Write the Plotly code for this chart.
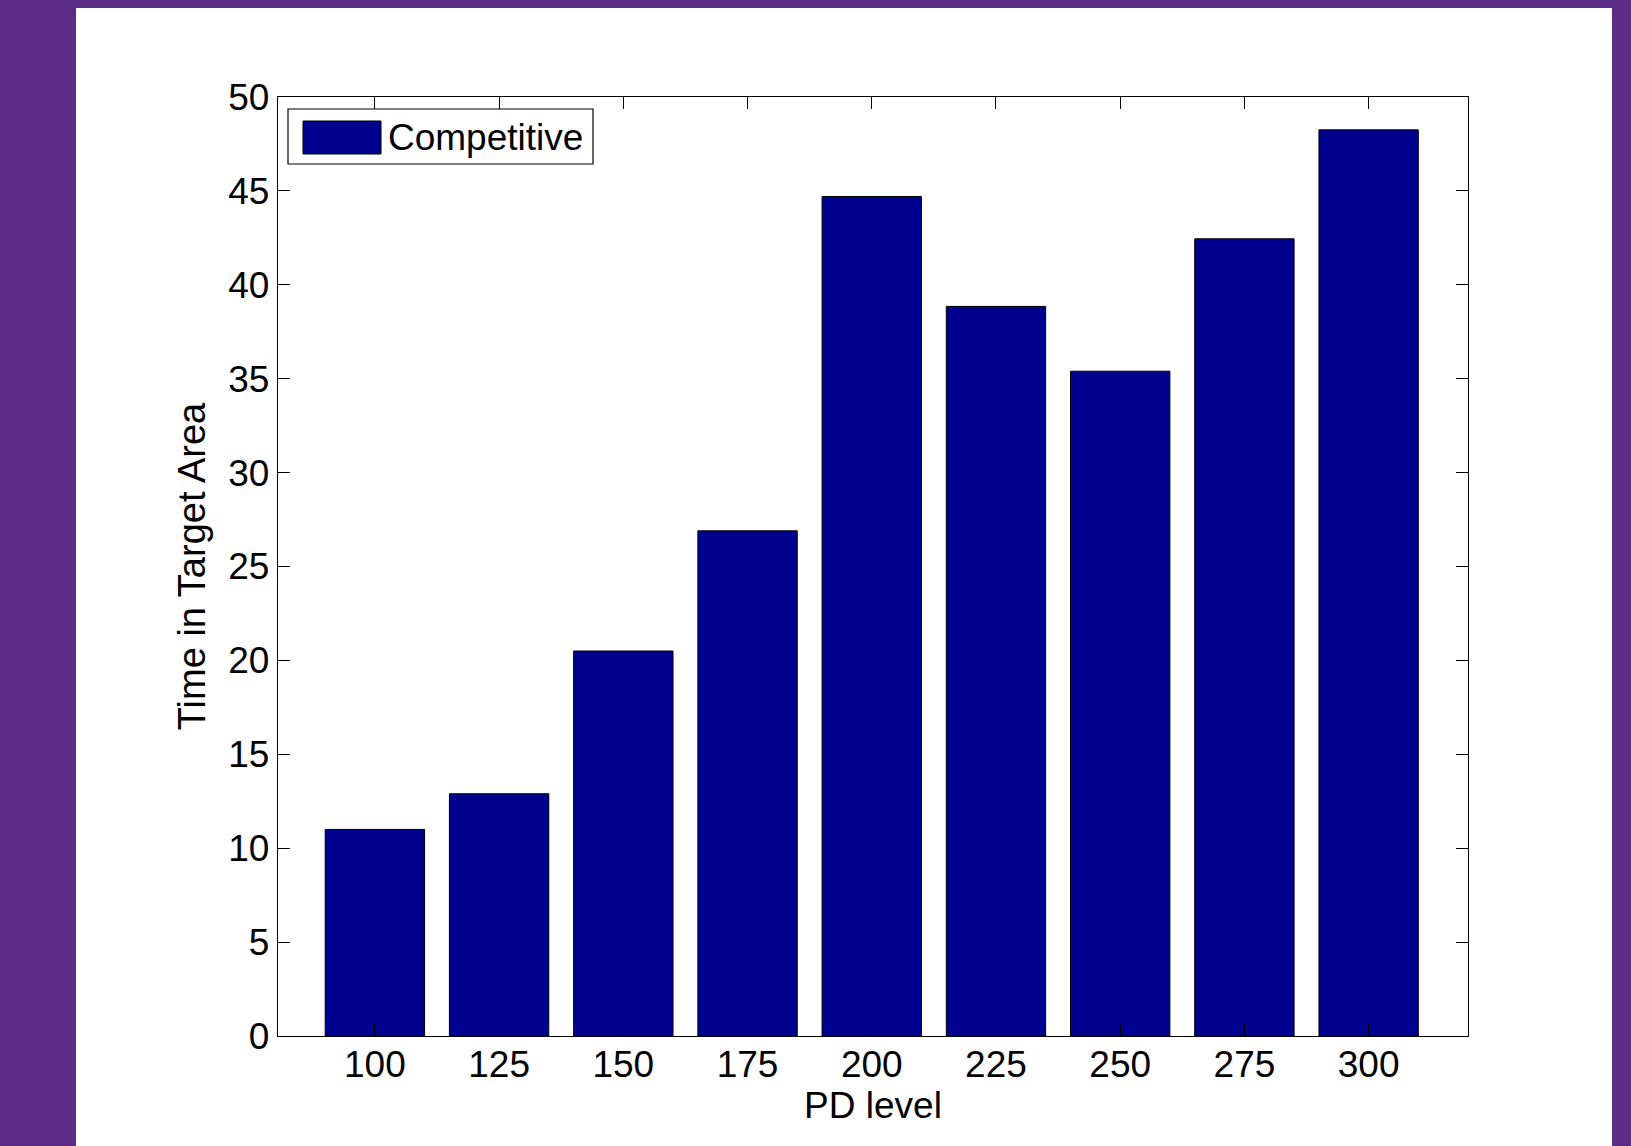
import plotly.graph_objects as go

pd_levels = [100, 125, 150, 175, 200, 225, 250, 275, 300]
time_in_target = [11.0, 12.9, 20.5, 26.9, 44.7, 38.85, 35.4, 42.45, 48.25]
y_ticks = [0, 5, 10, 15, 20, 25, 30, 35, 40, 45, 50]
series_name = "Competitive"

FONT = "Liberation Sans, Arial, sans-serif"
PURPLE = "#5b2d87"
BAR = "#000090"
FS = 37

W, H = 1631, 1146
L, R, T, B = 278, 163, 97, 110
pw, ph = W - L - R, H - T - B

def px(x):
    return (x - L) / pw

def py(y):
    return (H - B - y) / ph

fig = go.Figure()
fig.add_trace(go.Bar(
    x=pd_levels, y=time_in_target, name=series_name,
    marker=dict(color=BAR, line=dict(color="black", width=1)),
    showlegend=False,
))

shapes = [
    dict(type="rect", xref="paper", yref="paper", x0=px(76), x1=px(1612), y0=py(1146), y1=py(8),
         fillcolor="white", line=dict(width=0), layer="below"),
    dict(type="rect", xref="paper", yref="paper", x0=px(288), x1=px(593), y0=py(164), y1=py(109),
         fillcolor="white", line=dict(color="black", width=1.2), layer="above"),
    dict(type="rect", xref="paper", yref="paper", x0=px(303), x1=px(381), y0=py(154), y1=py(121),
         fillcolor=BAR, line=dict(color="black", width=1), layer="above"),
]

annotations = [
    dict(text=series_name, xref="paper", yref="paper", x=px(386), y=py(138),
         xanchor="left", yanchor="middle", showarrow=False,
         font=dict(family=FONT, size=FS, color="black")),
]

fig.update_layout(
    width=W, height=H,
    margin=dict(l=L, r=R, t=T, b=B, pad=0),
    paper_bgcolor=PURPLE, plot_bgcolor="white",
    font=dict(family=FONT, size=FS, color="black"),
    bargap=0.2,
    shapes=shapes, annotations=annotations,
    xaxis=dict(
        range=[80.5, 320], tickvals=pd_levels, ticktext=[str(v) for v in pd_levels],
        ticks="inside", ticklen=12, tickwidth=1.3, tickcolor="black",
        showline=True, linecolor="black", linewidth=1.3, mirror="ticks",
        showgrid=False, zeroline=False, ticklabelstandoff=-5,
        title=dict(text="PD level", standoff=6, font=dict(family=FONT, size=FS)),
        tickfont=dict(family=FONT, size=FS),
    ),
    yaxis=dict(
        range=[0, 50], tickvals=y_ticks,
        ticks="inside", ticklen=12, tickwidth=1.3, tickcolor="black",
        showline=True, linecolor="black", linewidth=1.3, mirror="ticks",
        showgrid=False, zeroline=False,
        title=dict(text="Time in Target Area", standoff=10, font=dict(family=FONT, size=38)),
        tickfont=dict(family=FONT, size=FS),
    ),
)

fig.write_html("out.html")
